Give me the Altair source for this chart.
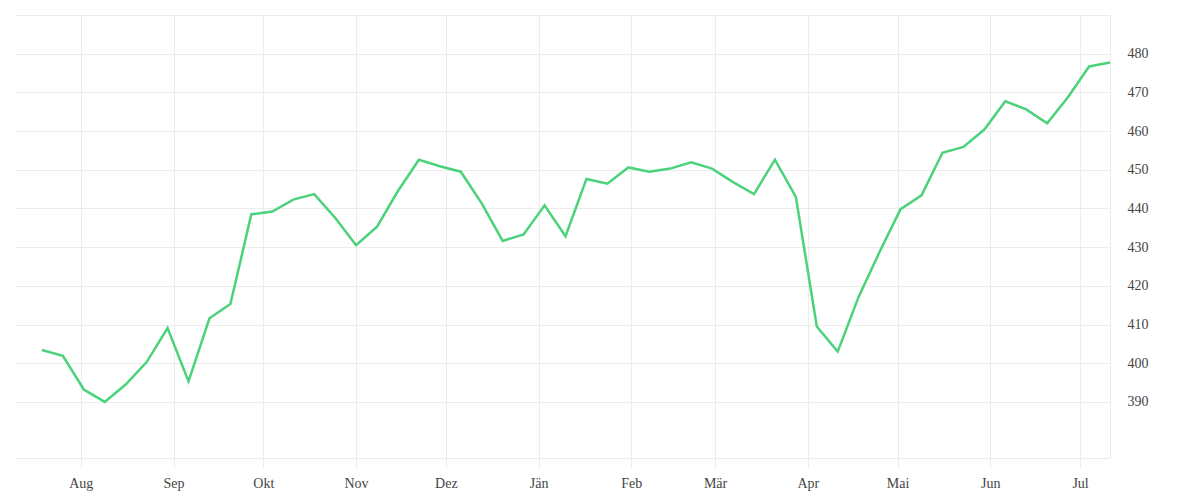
import altair as alt
import pandas as pd

# weekly values, 2022-07-19 .. 2023-07-11
start_date = "2022-07-19"
values = [
    403.4, 401.9, 393.2, 390.0, 394.5, 400.3, 409.1, 395.3, 411.6, 415.3,
    438.5, 439.2, 442.3, 443.7, 437.6, 430.5, 435.3, 444.5, 452.6, 450.9,
    449.5, 441.3, 431.6, 433.3, 440.8, 432.8, 447.6, 446.4, 450.6, 449.5,
    450.3, 451.9, 450.3, 446.8, 443.7, 452.6, 443.0, 409.5, 403.0, 417.2,
    428.8, 439.8, 443.4, 454.4, 455.9, 460.4, 467.7, 465.6, 462.0, 468.8,
    476.7, 477.7,
]
month_names = ["Jän", "Feb", "Mär", "Apr", "Mai", "Jun", "Jul", "Aug", "Sep", "Okt", "Nov", "Dez"]
month_ticks = ["2022-08-01", "2022-09-01", "2022-10-01", "2022-11-01", "2022-12-01",
               "2023-01-01", "2023-02-01", "2023-03-01", "2023-04-01", "2023-05-01",
               "2023-06-01", "2023-07-01"]
y_ticks = [375.5, 390, 400, 410, 420, 430, 440, 450, 460, 470, 480, 490]
x_domain = ["2022-07-10", "2023-07-11"]
y_domain = [375.5, 490]

dates = pd.date_range(start_date, periods=len(values), freq="7D")
df = pd.DataFrame({"date": dates.strftime("%Y-%m-%d"), "value": values})

def ms(s):
    return int(pd.Timestamp(s, tz="UTC").timestamp() * 1000)

names_js = "[" + ",".join("'" + m + "'" for m in month_names) + "]"

grid = "#ececec"
font = "Liberation Serif"

chart = alt.Chart(df).mark_line(color="#4bd27b", strokeWidth=2.5).encode(
    x=alt.X("date:T",
            scale=alt.Scale(type="utc", domain=[ms(d) for d in x_domain]),
            axis=alt.Axis(title=None, values=[ms(d) for d in month_ticks],
                          labelExpr=names_js + "[utcmonth(datum.value)]",
                          grid=True, gridColor=grid, domain=False,
                          ticks=True, tickSize=10, tickColor=grid,
                          labelPadding=8, labelFont=font, labelFontSize=14,
                          labelColor="#444")),
    y=alt.Y("value:Q",
            scale=alt.Scale(domain=y_domain, nice=False, zero=False),
            axis=alt.Axis(title=None, orient="right", values=y_ticks,
                          labelExpr="(datum.value >= 385 && datum.value <= 485) ? datum.label : ''",
                          grid=True, gridColor=grid, domain=True, domainColor=grid,
                          ticks=False, labelPadding=17, labelFont=font,
                          labelFontSize=14, labelColor="#444")),
).properties(
    width=1095, height=443,
    padding={"left": 7, "top": 7, "right": 5, "bottom": 5},
).configure_view(stroke=None)

chart.save("out.html", embed_options={"renderer": "svg", "actions": False})
